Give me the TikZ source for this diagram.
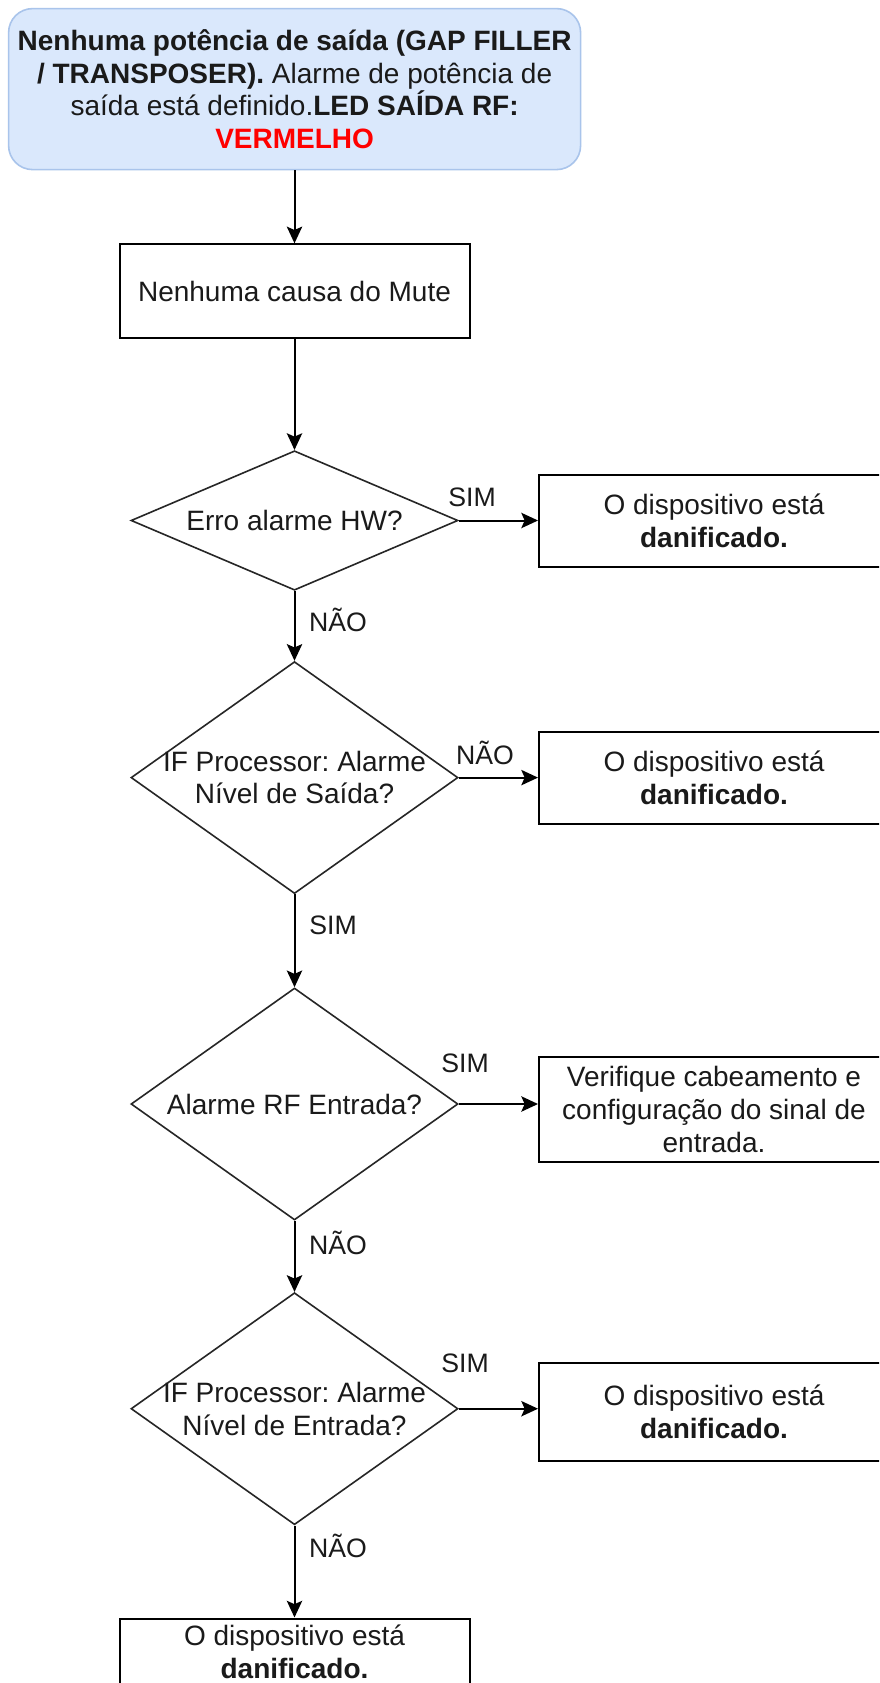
\documentclass[tikz,border=0pt]{standalone}
\usepackage{fontspec}
\setmainfont{Liberation Sans}
\usetikzlibrary{shapes.geometric,arrows.meta}
\definecolor{topfill}{HTML}{DAE8FC}
\definecolor{topdraw}{HTML}{A9C4EB}
\definecolor{redtxt}{HTML}{FF0000}
\definecolor{txt}{HTML}{1A1A1A}
\frenchspacing
\begin{document}
\begin{tikzpicture}[x=0.75pt,y=-0.75pt,
  every node/.style={font=\fontsize{21}{24.5}\selectfont, text=txt},
  startbox/.style={draw=topdraw, fill=topfill, line width=1.2pt, rounded corners=18pt,
    minimum width=429pt, minimum height=120.75pt, align=center, inner sep=0pt},
  procbox/.style={draw=black, line width=1.5pt, fill=white, minimum width=262.5pt,
    align=center, inner sep=0pt},
  decision/.style={diamond, draw=black!85, line width=1.2pt, fill=white,
    minimum width=245.25pt, inner sep=0pt},
  lbl/.style={inner sep=0pt, font=\fontsize{20}{24}\selectfont},
  conn/.style={line width=1.5pt, -{Stealth[length=12.5pt,width=11.5pt,inset=2.5pt]}}
]
\useasboundingbox (0,0) rectangle (879,1683);
\clip (0,0) rectangle (879,1683);
\fill[white] (0,0) rectangle (879,1683);

\node[startbox] (start) at (294.6,89.1) {\textbf{Nenhuma potência de saída (GAP FILLER}\\
  \textbf{/ TRANSPOSER).} Alarme de potência de\\
  saída está definido.\textbf{LED SAÍDA RF:}\\
  \textcolor{redtxt}{\textbf{VERMELHO}}};

\node[procbox, minimum height=70pt] (mute) at (294.5,291) {Nenhuma causa do Mute};

\node[decision, minimum height=104.6pt] (d1) at (294.5,520.5) {};
\node[inner sep=0pt] (d1t) at (d1.center) {Erro alarme HW?};
\node[procbox, minimum height=69pt] (r1) at (714,520.5) {O dispositivo está\\\textbf{danificado.}};

\node[decision, minimum height=174pt] (d2) at (294.5,777.6) {};
\node[inner sep=0pt, align=center] (d2t) at (d2.center) {IF Processor: Alarme\\Nível de Saída?};
\node[procbox, minimum height=69pt] (r2) at (714,777.6) {O dispositivo está\\\textbf{danificado.}};

\node[decision, minimum height=174pt] (d3) at (294.5,1104) {};
\node[inner sep=0pt] (d3t) at (d3.center) {Alarme RF Entrada?};
\node[procbox, minimum height=78.75pt] (r3) at (714,1109.5) {Verifique cabeamento e\\configuração do sinal de\\entrada.};

\node[decision, minimum height=174pt] (d4) at (294.5,1408.7) {};
\node[inner sep=0pt, align=center] (d4t) at (d4.center) {IF Processor: Alarme\\Nível de Entrada?};
\node[procbox, minimum height=73pt] (r4) at (714,1412) {O dispositivo está\\\textbf{danificado.}};

\node[procbox, minimum height=50.25pt] (last) at (294.5,1652) {O dispositivo está\\\textbf{danificado.}};

\draw[conn] (start.south -| mute.north) -- (mute.north);
\draw[conn] (mute.south) -- (d1.north);
\draw[conn] (d1.east) -- (r1.west |- d1.east);
\draw[conn] (d1.south) -- (d2.north);
\draw[conn] (d2.east) -- (r2.west |- d2.east);
\draw[conn] (d2.south) -- (d3.north);
\draw[conn] (d3.east) -- (r3.west |- d3.east);
\draw[conn] (d3.south) -- (d4.north);
\draw[conn] (d4.east) -- (r4.west |- d4.east);
\draw[conn] (d4.south) -- (last.north);

\node[lbl] (l1) at (472,497) {SIM};
\node[lbl] (l2) at (338,620) {NÃO};
\node[lbl] (l3) at (485,753) {NÃO};
\node[lbl] (l4) at (333,925) {SIM};
\node[lbl] (l5) at (465,1063) {SIM};
\node[lbl] (l6) at (338,1243) {NÃO};
\node[lbl] (l7) at (465,1363) {SIM};
\node[lbl] (l8) at (338,1546) {NÃO};
\end{tikzpicture}
\end{document}
